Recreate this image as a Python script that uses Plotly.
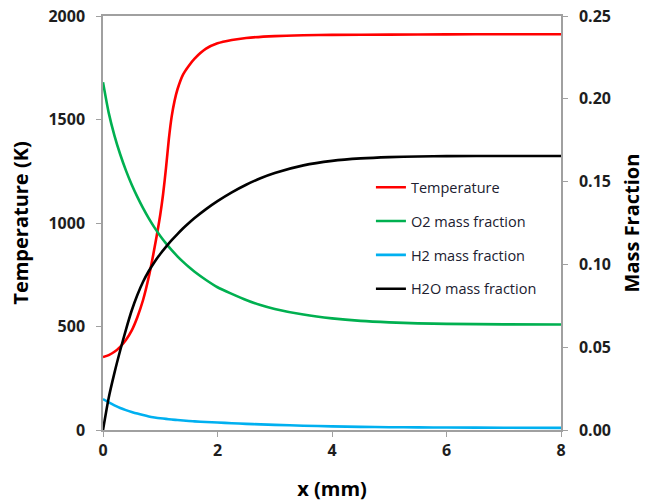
import plotly.graph_objects as go

# Axial position (mm) for the temperature profile
x_temp = [0, 0.1, 0.2, 0.3, 0.4, 0.5, 0.6, 0.7, 0.8, 0.9, 1.0, 1.05, 1.1, 1.15,
          1.2, 1.25, 1.3, 1.4, 1.5, 1.6, 1.8, 2.0, 2.25, 2.5, 3.0, 3.5, 4.0,
          5.0, 6.0, 7.0, 8.0]
temperature = [352, 362, 378, 402, 435, 480, 545, 628, 740, 880, 1040, 1140,
               1265, 1405, 1515, 1590, 1645, 1718, 1760, 1794, 1842, 1868,
               1884, 1894, 1903, 1907, 1909, 1910, 1911, 1912, 1912]

# Axial position (mm) for the species mass fractions
x_species = [0, 0.1, 0.2, 0.3, 0.4, 0.5, 0.6, 0.7, 0.8, 0.9, 1.0, 1.1, 1.2,
             1.3, 1.4, 1.5, 1.6, 1.8, 2.0, 2.25, 2.5, 2.75, 3.0, 3.5, 4.0,
             4.5, 5.0, 5.5, 6.0, 7.0, 8.0]
o2_fraction = [0.2100, 0.1915, 0.1778, 0.1665, 0.1568, 0.1483, 0.1408, 0.1340,
               0.1278, 0.1222, 0.1172, 0.1127, 0.1086, 0.1049, 0.1015, 0.0984,
               0.0956, 0.0906, 0.0862, 0.0822, 0.0785, 0.0755, 0.0731, 0.0697,
               0.0674, 0.0659, 0.0650, 0.0644, 0.0641, 0.0638, 0.0637]
h2_fraction = [0.0187, 0.0167, 0.0149, 0.0133, 0.0120, 0.0109, 0.0099, 0.0090,
               0.0082, 0.0076, 0.0071, 0.0067, 0.0063, 0.0060, 0.0057, 0.0054,
               0.0052, 0.0048, 0.0045, 0.0041, 0.0037, 0.0034, 0.0031, 0.0026,
               0.0022, 0.0019, 0.0017, 0.0016, 0.0015, 0.0014, 0.0013]
h2o_fraction = [0.0, 0.0195, 0.0345, 0.0480, 0.0605, 0.0720, 0.0815, 0.0895,
                0.0960, 0.1015, 0.1063, 0.1106, 0.1146, 0.1183, 0.1218, 0.1250,
                0.1280, 0.1334, 0.1382, 0.1435, 0.1481, 0.1520, 0.1552, 0.1598,
                0.1625, 0.1640, 0.1648, 0.1652, 0.1654, 0.1655, 0.1655]

x_ticks = [0, 2, 4, 6, 8]
t_ticks = [0, 500, 1000, 1500, 2000]
mf_ticks = [0.0, 0.05, 0.10, 0.15, 0.20, 0.25]
mf_tick_text = ["0.00", "0.05", "0.10", "0.15", "0.20", "0.25"]

FONT = "Open Sans"
AXIS_GRAY = "#a0a0a0"
LABEL_COLOR = "#1e1e1e"

fig = go.Figure()

series = [
    ("Temperature", x_temp, temperature, "#ff0000", "y"),
    ("O2 mass fraction", x_species, o2_fraction, "#00b050", "y2"),
    ("H2 mass fraction", x_species, h2_fraction, "#00b0f0", "y2"),
    ("H2O mass fraction", x_species, h2o_fraction, "#000000", "y2"),
]
for name, xs, ys, color, axis in series:
    fig.add_trace(go.Scatter(
        x=xs, y=ys, name=name, yaxis=axis, mode="lines",
        line=dict(color=color, width=2.6, shape="spline", smoothing=0.7),
        legendgroup=name,
    ))

tick_font = dict(family=FONT, size=16, color=LABEL_COLOR, weight="bold")
title_font = dict(family=FONT, size=20, color="#000000", weight="bold")

fig.update_layout(
    width=645, height=504,
    margin=dict(l=103, r=84, t=16, b=74),
    paper_bgcolor="white", plot_bgcolor="white",
    showlegend=True,
    legend=dict(
        x=0.585, y=0.625, xanchor="left", yanchor="top",
        bgcolor="rgba(0,0,0,0)",
        font=dict(family=FONT, size=14.5, color="#202030"),
        tracegroupgap=12,
    ),
    xaxis=dict(
        range=[0, 8], tickvals=x_ticks, ticks="outside", ticklen=5,
        tickcolor=AXIS_GRAY, showline=True, linecolor=AXIS_GRAY, linewidth=1.5,
        mirror=True, showgrid=False, zeroline=False, tickfont=tick_font,
        title=dict(text="x (mm)", font=title_font, standoff=22),
        automargin=False,
    ),
    yaxis=dict(
        range=[0, 2000], tickvals=t_ticks, ticks="outside", ticklen=5,
        tickcolor=AXIS_GRAY, showline=True, linecolor=AXIS_GRAY, linewidth=1.5,
        showgrid=False, zeroline=False, tickfont=tick_font,
        ticklabelstandoff=8,
        title=dict(text="Temperature (K)", font=title_font, standoff=14),
        automargin=False,
    ),
    yaxis2=dict(
        range=[0, 0.25], tickvals=mf_ticks, ticktext=mf_tick_text,
        overlaying="y", side="right", ticks="outside", ticklen=5,
        tickcolor=AXIS_GRAY, showline=True, linecolor=AXIS_GRAY, linewidth=1.5,
        showgrid=False, zeroline=False, tickfont=tick_font,
        ticklabelstandoff=8,
        title=dict(text="Mass Fraction", font=title_font, standoff=23),
        automargin=False,
    ),
)

fig.write_html("out.html")
